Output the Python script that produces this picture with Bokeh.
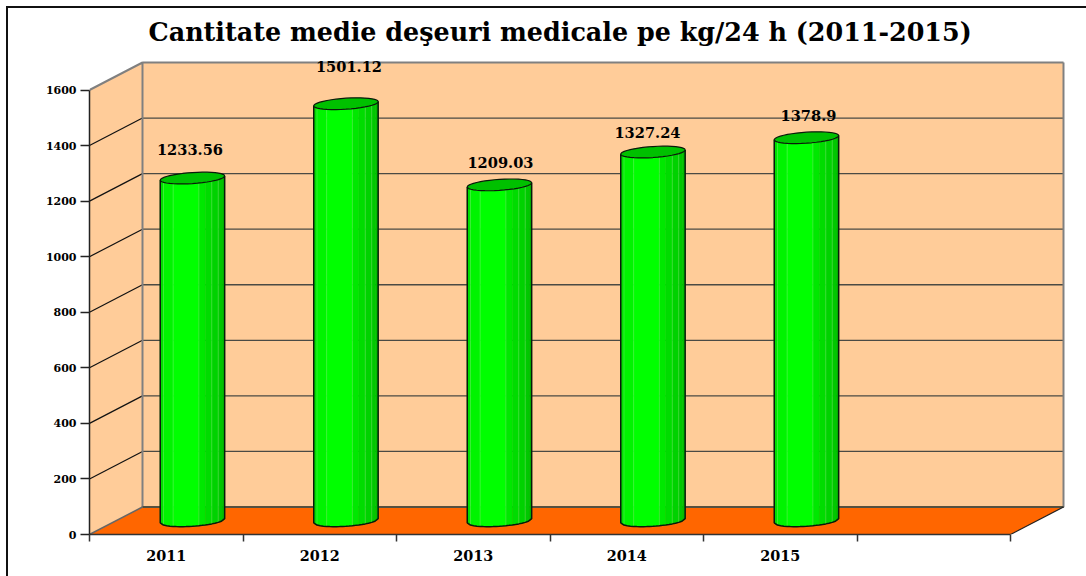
import numpy as np
from bokeh.plotting import figure
from bokeh.models import ColumnDataSource, FixedTicker, Range1d, Title
from bokeh.core.properties import value
from bokeh.embed import file_html
from bokeh.resources import INLINE

# ---- data
years = ["2011", "2012", "2013", "2014", "2015"]
values = [1233.56, 1501.12, 1209.03, 1327.24, 1378.9]
value_labels = ["1233.56", "1501.12", "1209.03", "1327.24", "1378.9"]
y_ticks = [0, 200, 400, 600, 800, 1000, 1200, 1400, 1600]
n_slots = 6
title_text = "Cantitate medie de\u015feuri medicale pe kg/24 h (2011-2015)"

# ---- layout (pixels)
PX_SLOT = 153.5
PX_VAL = 444.5 / 1600
DEPTH_X, DEPTH_Y = 53, 27.5
dx = DEPTH_X / PX_SLOT
dy = DEPTH_Y / PX_VAL
FRAME_W, FRAME_H = 983, 479
label_off_x = [-2.5, 3, 1, -5.5, 2]
label_off_y = [29, 37, 22, 20, 22]

FONT = value("DejaVu Serif")
p = figure(width=1078, height=568, output_backend="svg", toolbar_location=None,
           frame_width=FRAME_W, frame_height=FRAME_H,
           x_range=Range1d(0, FRAME_W / PX_SLOT), y_range=Range1d(0, FRAME_H / PX_VAL),
           min_border_left=81, min_border_top=47, min_border_bottom=42, min_border_right=14,
           background_fill_color="white", border_fill_color="white")
p.outline_line_color = None
p.grid.visible = False
p.styles = {"border-left": "2px solid #111", "border-top": "2px solid #111",
            "margin-left": "6px", "margin-top": "6px"}

p.title = Title(text=title_text, text_font="DejaVu Serif", text_font_style="bold",
                text_font_size="25.4px", align="left", offset=59, text_color="black",
                standoff=15, vertical_align="middle")

# walls and floor
WALL, FLOOR, EDGE = "#FFCC99", "#FF6600", "#808080"
top = y_ticks[-1]
p.patch([0, dx, dx, 0], [0, dy, top + dy, top], fill_color=WALL, line_color=None)
p.patch([dx, n_slots + dx, n_slots + dx, dx], [dy, dy, top + dy, top + dy], fill_color=WALL, line_color=None)
p.patch([0, dx, n_slots + dx, n_slots], [0, dy, dy, 0], fill_color=FLOOR, line_color=None)

# gridlines
inner = y_ticks[1:-1]
p.multi_line([[dx, n_slots + dx] for _ in inner], [[v + dy, v + dy] for v in inner],
             line_color="#4a4a44", line_width=1.3)
p.multi_line([[0, dx] for _ in inner], [[v, v + dy] for v in inner],
             line_color="#111111", line_width=1.2)
# wall edges
p.line([0, dx, dx, n_slots + dx, n_slots + dx], [top, top + dy, dy, dy, top + dy], line_color=EDGE, line_width=2)
p.line([dx, n_slots + dx], [top + dy, top + dy], line_color=EDGE, line_width=2)
p.line([dx, n_slots + dx], [dy, dy], line_color="#55503f", line_width=2)
p.line([0, dx], [0, dy], line_color="#666666", line_width=1.5)
p.line([n_slots, n_slots + dx], [0, dy], line_color="#222222", line_width=1.2)

# cylinders
A, B, TILT = 32.2 / PX_SLOT, 5.5 / PX_VAL, 2.1 / PX_VAL
centres = [i + 0.5 + dx / 2 - 0.3 / PX_SLOT for i in range(len(years))]
base = dy / 2
strip_edges = [0, 0.05, 0.2, 0.6, 0.7, 0.8, 0.9, 0.96, 1.0]
strip_cols = ["#00E000", "#00F400", "#00FF00", "#00E800", "#00DC00", "#00D200", "#00C800", "#00BE00"]
light_fracs = [0.05, 0.2, 0.6, 0.8, 0.9]

def front(frac, cx, cy):
    """Front (lower) half of a tilted ellipse at fractions of the bar's width."""
    c = 2 * np.asarray(frac) - 1
    s = np.sqrt(np.clip(1 - c ** 2, 0, 1))
    return cx + A * c, cy - B * s + TILT * c

sx, sy, sc = [], [], []
capx, capy, ox, oy, lx, ly = [], [], [], [], [], []
for cx, v in zip(centres, values):
    cy = base + v
    for a, b, col in zip(strip_edges[:-1], strip_edges[1:], strip_cols):
        f = np.linspace(a, b, 6)
        tx, ty = front(f, cx, cy)
        bx, by = front(f, cx, base)
        sx.append(np.r_[tx, bx[::-1]]); sy.append(np.r_[ty, by[::-1]]); sc.append(col)
    for f in light_fracs:
        tx, ty = front(f, cx, cy)
        bx, by = front(f, cx, base)
        lx.append([tx, bx]); ly.append([ty, by])
    t = np.linspace(0, 2 * np.pi, 41)
    capx.append(cx + A * np.cos(t))
    capy.append(cy + B * np.sin(t) + TILT * np.cos(t))
    f = np.linspace(0, 1, 21)
    bx, by = front(f, cx, base)
    tl = front([0], cx, cy); tr = front([1], cx, cy)
    ox.append(np.r_[tl[0], bx, tr[0]]); oy.append(np.r_[tl[1], by, tr[1]])

p.patches(sx, sy, fill_color=sc, line_color=sc, line_width=0.5)
p.multi_line(lx, ly, line_color="#7CF07C", line_width=0.8, line_alpha=0.5)
p.multi_line(ox, oy, line_color="#0a1a0a", line_width=1.5)
p.patches(capx, capy, fill_color="#00C000", line_color="#0a1a0a", line_width=1.2)

# value labels
src = ColumnDataSource(dict(x=centres, y=[base + v for v in values], t=value_labels,
                            xo=label_off_x, yo=[-o for o in label_off_y]))
p.text("x", "y", "t", source=src, x_offset="xo", y_offset="yo", text_align="center",
       text_baseline="middle", text_font=FONT, text_font_style="bold",
       text_font_size="14.6px", text_color="black")

# axes
ya = p.yaxis[0]
ya.ticker = FixedTicker(ticks=y_ticks)
ya.bounds = (0, top)
ya.axis_line_color = "#222222"; ya.axis_line_width = 1.5
ya.major_tick_in = 0; ya.major_tick_out = 9
ya.major_tick_line_color = "#222222"; ya.major_tick_line_width = 1.5
ya.minor_tick_line_color = None
ya.major_label_standoff = 4
ya.major_label_text_font = "DejaVu Serif"; ya.major_label_text_font_style = "bold"
ya.major_label_text_font_size = "11px"; ya.major_label_text_color = "black"

xa = p.xaxis[0]
xa.ticker = FixedTicker(ticks=[i + 0.5 for i in range(len(years))], minor_ticks=list(range(n_slots + 1)))
xa.major_label_overrides = {i + 0.5: y for i, y in enumerate(years)}
xa.bounds = (0, n_slots)
xa.axis_line_color = "#333333"; xa.axis_line_width = 1.5
xa.major_tick_line_color = None
xa.major_tick_in = 0; xa.major_tick_out = 0
xa.minor_tick_in = 0; xa.minor_tick_out = 7
xa.minor_tick_line_color = "#333333"; xa.minor_tick_line_width = 1.5
xa.major_label_standoff = 8
xa.major_label_text_font = "DejaVu Serif"; xa.major_label_text_font_style = "bold"
xa.major_label_text_font_size = "14.4px"; xa.major_label_text_color = "black"

open("out.html", "w").write(file_html(p, INLINE))
